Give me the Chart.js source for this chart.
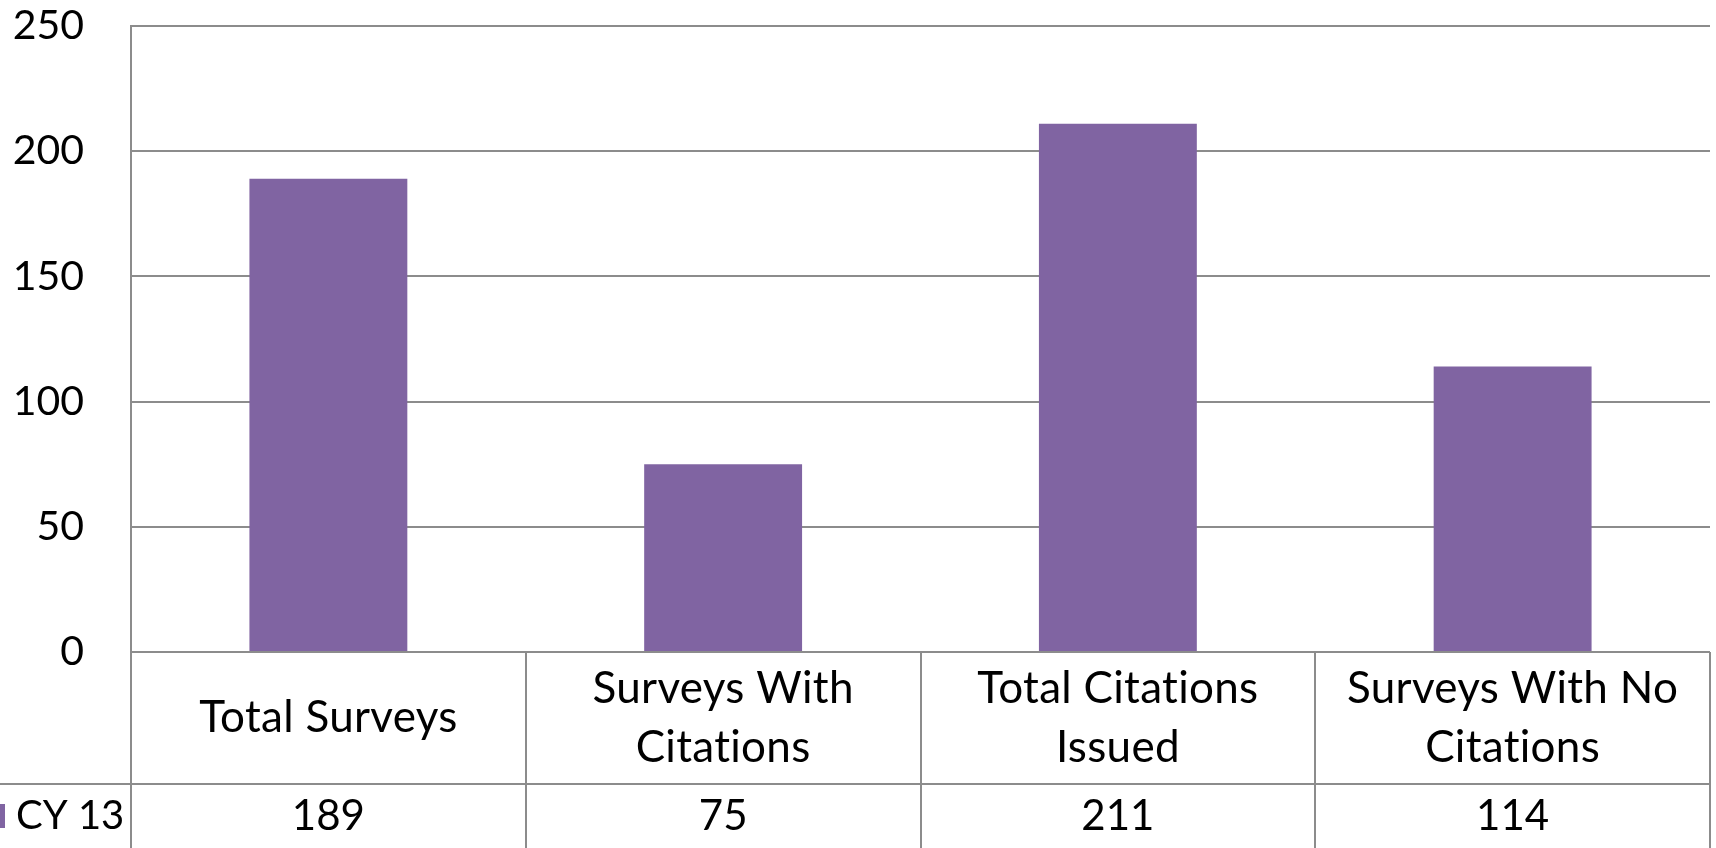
<!DOCTYPE html>
<html>
<head>
<meta charset="utf-8">
<script src="https://cdn.jsdelivr.net/npm/chart.js@4"></script>
<style>
html,body{margin:0;padding:0;background:#fff;}
#wrap{width:1716px;height:848px;position:relative;}
</style>
</head>
<body>
<div id="wrap"><canvas id="c"></canvas></div>
<script>
const categories = [['Total Surveys'], ['Surveys With', 'Citations'], ['Total Citations', 'Issued'], ['Surveys With No', 'Citations']];
const seriesName = 'CY 13';
const seriesValues = [189, 75, 211, 114];
const yTicks = [0, 50, 100, 150, 200, 250];

const FONT = 'Lato';
const BAR = '#8064A2';
const GRID = '#8c8c8c';

const tablePlugin = {
  id: 'dataTable',
  afterDraw(chart) {
    const ctx = chart.ctx;
    const area = chart.chartArea;
    const xs = chart.scales.x;
    const n = categories.length;
    const colW = (area.right - area.left) / n;
    const headTop = area.bottom;
    const rowTop = 784;
    const bottom = chart.height;
    ctx.save();
    ctx.strokeStyle = GRID;
    ctx.lineWidth = 2;
    ctx.beginPath();
    ctx.moveTo(area.left, area.top); ctx.lineTo(area.left, bottom);
    ctx.moveTo(area.left, headTop); ctx.lineTo(area.right, headTop);
    ctx.moveTo(0, rowTop); ctx.lineTo(area.right, rowTop);
    for (let i = 1; i <= n; i++) {
      const x = Math.round(area.left + colW * i);
      ctx.moveTo(x, headTop); ctx.lineTo(x, bottom);
    }
    ctx.stroke();
    ctx.fillStyle = '#000';
    ctx.textAlign = 'center';
    ctx.textBaseline = 'middle';
    const lineH = 59;
    const headMid = (headTop + rowTop) / 2;
    const rowMid = (rowTop + bottom) / 2;
    for (let i = 0; i < n; i++) {
      const cx = xs.getPixelForValue(i);
      const lines = categories[i];
      const y0 = headMid - (lines.length - 1) * lineH / 2;
      ctx.font = '44px ' + FONT;
      ctx.letterSpacing = '0.3px';
      lines.forEach((t, k) => ctx.fillText(t, cx, y0 + k * lineH));
      ctx.font = '42px ' + FONT;
      ctx.letterSpacing = '0px';
      ctx.fillText(String(seriesValues[i]), cx, rowMid);
    }
    ctx.fillStyle = BAR;
    ctx.fillRect(0, rowMid - 12, 5, 24);
    ctx.fillStyle = '#000';
    ctx.textAlign = 'left';
    ctx.font = '40px ' + FONT;
    ctx.fillText(seriesName, 16, rowMid);
    ctx.restore();
  }
};

new Chart(document.getElementById('c'), {
  type: 'bar',
  data: {
    labels: categories,
    datasets: [{
      label: seriesName,
      data: seriesValues,
      backgroundColor: BAR,
      borderWidth: 0,
      categoryPercentage: 0.4,
      barPercentage: 1.0
    }]
  },
  options: {
    responsive: true,
    maintainAspectRatio: false,
    animation: false,
    layout: { padding: { top: 26, bottom: 196, left: 0, right: 6 } },
    plugins: { legend: { display: false }, tooltip: { enabled: false } },
    scales: {
      x: { display: false },
      y: {
        min: 0, max: 250,
        afterBuildTicks(s) { s.ticks = yTicks.map(v => ({ value: v })); },
        afterFit(s) { s.width = 131; },
        grid: { color: GRID, lineWidth: 2, drawTicks: true, tickLength: 47, tickColor: 'rgba(0,0,0,0)' },
        border: { display: true, color: GRID, width: 2 },
        ticks: { color: '#000', font: { family: FONT, size: 41 }, padding: 0 }
      }
    }
  },
  plugins: [tablePlugin]
});
</script>
</body>
</html>
